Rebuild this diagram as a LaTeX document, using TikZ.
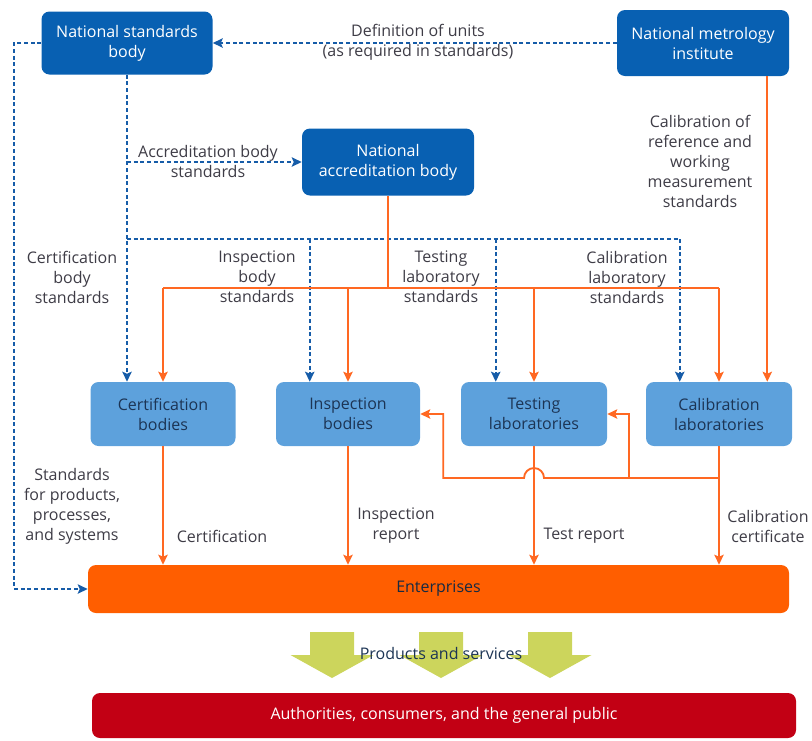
\documentclass[tikz,border=0pt]{standalone}
\usepackage{fontspec}
\setmainfont{Open Sans}
\usetikzlibrary{arrows.meta,calc}
\definecolor{dkblue}{RGB}{8,96,178}
\definecolor{ltblue}{RGB}{93,161,220}
\definecolor{navytxt}{RGB}{28,52,84}
\definecolor{dashblue}{RGB}{22,92,168}
\definecolor{orline}{RGB}{255,104,34}
\definecolor{entor}{RGB}{255,94,0}
\definecolor{pubred}{RGB}{194,0,20}
\definecolor{lblgray}{RGB}{62,60,70}
\definecolor{arrgreen}{RGB}{204,213,92}
\tikzset{
  box/.style={rounded corners=6pt, inner sep=0pt, align=center, font=\fontsize{12}{15}\selectfont},
  topbox/.style={box, fill=dkblue, text=white},
  midbox/.style={box, fill=ltblue, text=navytxt},
  lbl/.style={align=center, text=lblgray, inner sep=0pt, font=\fontsize{12}{15}\selectfont},
  bdash/.style={draw=dashblue, line width=1.4pt, dash pattern=on 3pt off 2pt},
  oline/.style={draw=orline, line width=1.4pt},
  tipb/.style={-{Stealth[length=7.5pt,width=7pt,inset=1.5pt]}},
}
\begin{document}
\begin{tikzpicture}[x=0.75pt,y=-0.75pt]
\useasboundingbox (0,0) rectangle (812,740);
% boxes
\node[topbox, minimum width=128.25pt, minimum height=47.25pt] (nsb) at (127,43) {National standards\\body};
\node[topbox, minimum width=129pt, minimum height=49.5pt] (nmi) at (703,43) {National metrology\\institute};
\node[topbox, minimum width=129pt, minimum height=50.25pt] (nab) at (388,162) {National\\accreditation body};
\node[midbox, minimum width=108.75pt, minimum height=48pt] (cert) at (163,414) {Certification\\bodies};
\node[midbox, minimum width=108pt, minimum height=48pt] (insp) at (348,414) {Inspection\\bodies};
\node[midbox, minimum width=109.5pt, minimum height=48pt] (test) at (534,414) {Testing\\laboratories};
\node[midbox, minimum width=109.5pt, minimum height=48pt] (calib) at (719,414) {Calibration\\laboratories};
\node[box, fill=entor, text=navytxt!80!black, minimum width=525.75pt, minimum height=36pt] (ent) at (438.5,589) {Enterprises};
% green arrows
\foreach \c in {332,441,550}{
  \fill[arrgreen] (\c-22,632) -- (\c+22,632) -- (\c+22,655) -- (\c+41.5,655) -- (\c,678) -- (\c-41.5,655) -- (\c-22,655) -- cycle;
}
\node[lbl, text=navytxt] (prod) at (441,653) {Products and services};
\node[box, fill=pubred, text=white, minimum width=528pt, minimum height=33.75pt] (pub) at (444,715.5) {Authorities, consumers, and the general public};
% helper coordinates
\coordinate (dh) at (0,239);
\coordinate (oh) at (0,288);
\coordinate (fh) at (0,478);
\coordinate (lx) at (14,0);
\coordinate (ib) at ($(insp.north west)+(34,0)$);
\coordinate (tb) at ($(test.north west)+(35,0)$);
\coordinate (kb) at ($(calib.north west)+(34,0)$);
\coordinate (mx) at ($(calib.north east)+(-25,0)$);
\coordinate (f2) at ($(test.east)+(22,0)$);
\coordinate (f3) at ($(insp.east)+(23,0)$);
% dashed blue
\draw[bdash, tipb] (nmi.west) -- (nsb.east);
\draw[bdash, tipb] (nsb.west) -- (nsb.west -| lx) -- (lx |- ent.west) -- (ent.west);
\draw[bdash, tipb] (nsb.south) -- (nsb.south |- cert.north);
\draw[bdash, tipb] (nsb.south |- nab.west) -- (nab.west);
\draw[bdash] (nsb.south |- dh) -- (kb |- dh);
\draw[bdash, tipb] (ib |- dh) -- (ib);
\draw[bdash, tipb] (tb |- dh) -- (tb);
\draw[bdash, tipb] (kb |- dh) -- (kb);
% orange
\draw[oline] (nab.south) -- (nab.south |- oh);
\draw[oline] (cert.north |- oh) -- (calib.north |- oh);
\foreach \n in {cert,insp,test,calib}{
  \draw[oline, tipb] (\n.north |- oh) -- (\n.north);
  \draw[oline, tipb] (\n.south) -- (\n.south |- ent.north);
}
\draw[oline, tipb] (mx |- nmi.south) -- (mx);
\draw[oline, tipb] (calib.south |- fh) -- (f2 |- fh) -- (f2) -- (test.east);
\draw[oline, tipb] (f2 |- fh) -- ($(test.south |- fh)+(10,0)$) arc[start angle=0, end angle=180, radius=7.5pt] -- (f3 |- fh) -- (f3) -- (insp.east);
% labels
\node[lbl] (l1) at (418,42) {Definition of units\\(as required in standards)};
\node[lbl] (l2) at (208,161) {Accreditation body\\standards};
\node[lbl] (l3) at (700,161) {Calibration of\\reference and\\working\\measurement\\standards};
\node[lbl] (l4) at (72,277) {Certification\\body\\standards};
\node[lbl] (l5) at (257,277) {Inspection\\body\\standards};
\node[lbl] (l6) at (441,277) {Testing\\laboratory\\standards};
\node[lbl] (l7) at (627,277) {Calibration\\laboratory\\standards};
\node[lbl] (l8) at (72,506) {Standards\\for products,\\processes,\\and systems};
\node[lbl] (l9) at (222,536) {Certification};
\node[lbl] (l10) at (396,526) {Inspection\\report};
\node[lbl] (l11) at (584,536) {Test report};
\node[lbl] (l12) at (768,526) {Calibration\\certificate};
\end{tikzpicture}
\end{document}
